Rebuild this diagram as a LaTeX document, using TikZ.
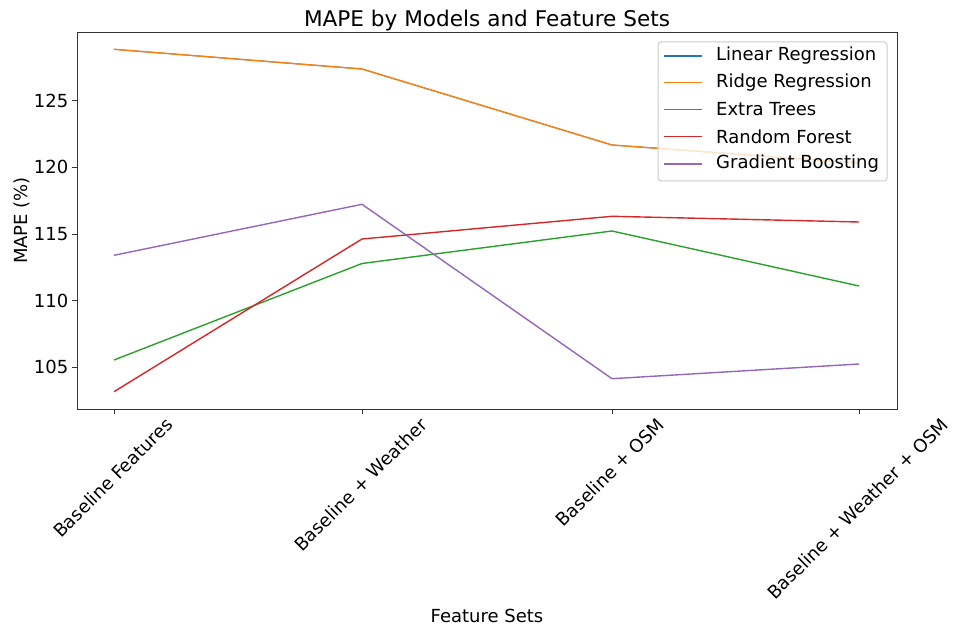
\documentclass[tikz,border=0pt]{standalone}
\usepackage{fontspec}
\setmainfont{DejaVu Sans}
\definecolor{mplblue}{HTML}{1F77B4}
\definecolor{mplorange}{HTML}{FF7F0E}
\definecolor{mplgreen}{HTML}{2CA02C}
\definecolor{mplred}{HTML}{D62728}
\definecolor{mplpurple}{HTML}{9467BD}
\newcommand{\tickfont}{\fontsize{18}{21}\selectfont}
\newcommand{\titlefont}{\fontsize{21.6}{26}\selectfont}

\begin{document}
\begin{tikzpicture}[x=1pt,y=1pt,every node/.style={inner sep=0pt,font=\tickfont},
  series/.style={line width=1.4pt,line join=round},
  axisline/.style={line width=0.9pt,black!80}]
\useasboundingbox (0,0) rectangle (955,630);
% frame and ticks
\draw[axisline] (77,221) rectangle (897,598);
\foreach \val/\y in {105/262.6,110/329.3,115/396,120/462.7,125/529.4}{
  \draw[axisline] (72,\y) -- (77,\y);
  \node[anchor=east] (ytick\val) at (68.5,\y) {\val};
}
\foreach \x in {114,362,612,859} \draw[axisline] (\x,221) -- (\x,216);
\node[rotate=45,anchor=base east] (xtick0) at (173.9,204) {Baseline Features};
\node[rotate=45,anchor=base east] (xtick1) at (428.6,204) {Baseline + Weather};
\node[rotate=45,anchor=base east] (xtick2) at (665.9,204) {Baseline + OSM};
\node[rotate=45,anchor=base east] (xtick3) at (949.5,204) {Baseline + Weather + OSM};
\node[anchor=base] (xlabel) at (487,8) {Feature Sets};
\node[rotate=90,anchor=base] (ylabel) at (28,409.5) {MAPE (\%)};
\node[anchor=base,font=\titlefont] (title) at (487,603) {MAPE by Models and Feature Sets};
% series
\coordinate (lin0) at (114,580.7);
\coordinate (lin1) at (362,561.0);
\coordinate (lin2) at (612,485.0);
\coordinate (lin3) at (859,467.0);
\coordinate (rid0) at (114,580.7);
\coordinate (rid1) at (362,561.0);
\coordinate (rid2) at (612,485.0);
\coordinate (rid3) at (859,467.0);
\coordinate (ext0) at (114,270.0);
\coordinate (ext1) at (362,366.5);
\coordinate (ext2) at (612,399.0);
\coordinate (ext3) at (859,344.0);
\coordinate (rf0) at (114,238.3);
\coordinate (rf1) at (362,391.0);
\coordinate (rf2) at (612,413.7);
\coordinate (rf3) at (859,408.0);
\coordinate (gb0) at (114,374.7);
\coordinate (gb1) at (362,425.7);
\coordinate (gb2) at (612,251.3);
\coordinate (gb3) at (859,266.0);
\draw[series,line width=1pt,mplblue] (lin0)--(lin1)--(lin2)--(lin3);
\draw[series,mplorange] (rid0)--(rid1)--(rid2)--(rid3);
\draw[series,mplgreen] (ext0)--(ext1)--(ext2)--(ext3);
\draw[series,mplred] (rf0)--(rf1)--(rf2)--(rf3);
\draw[series,mplpurple] (gb0)--(gb1)--(gb2)--(gb3);
% legend
\draw[rounded corners=3pt,draw=black!20,fill=white,fill opacity=0.8,line width=1pt] (658,449) rectangle (887,588);
\foreach \c/\t/\y in {mplblue/Linear Regression/574,mplorange/Ridge Regression/547.3,
  mplgreen/Extra Trees/520.6,mplred/Random Forest/493.3,mplpurple/Gradient Boosting/466}{
  \coordinate (key\c) at (664,\y);
  \draw[series,\c] (key\c) -- ++(38,0);
  \node[anchor=west] (leg\c) at (716,\y) {\t};
}
\end{tikzpicture}
\end{document}
